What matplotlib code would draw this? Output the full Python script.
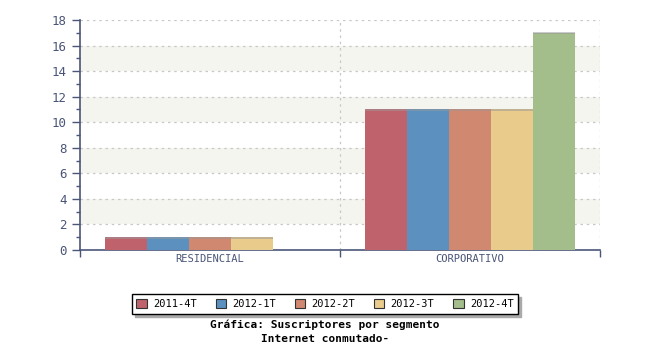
import numpy as np
import matplotlib.pyplot as plt
from matplotlib.ticker import MultipleLocator, FixedLocator

categories = ['RESIDENCIAL', 'CORPORATIVO']
series = ['2011-4T', '2012-1T', '2012-2T', '2012-3T', '2012-4T']
values = [
    [1, 11],
    [1, 11],
    [1, 11],
    [1, 11],
    [0, 17],
]
colors = ['#c0626b', '#5b90bf', '#d08870', '#e9cb8c', '#a3bd8b']
axis_col = '#4a5578'

plt.rcParams['font.family'] = 'DejaVu Sans Mono'

fig = plt.figure(figsize=(6.5, 3.5), dpi=100)
ax = fig.add_axes([80 / 650, 1 - 250 / 350, 520 / 650, 230 / 350])

# fondo con bandas alternas
for y0 in range(2, 18, 4):
    ax.axhspan(y0, y0 + 2, color='#f5f5f0', zorder=0, lw=0)
for y in range(2, 19, 2):
    ax.axhline(y, color='#c8c8c8', ls=(0, (2, 3)), lw=0.9, zorder=1)
for x in [1, 2]:
    ax.axvline(x, color='#c8c8c8', ls=(0, (2, 3)), lw=0.9, zorder=1)

w = 42 / 260
centers = np.arange(len(categories)) + 0.5
for i, (s, vals) in enumerate(zip(series, values)):
    xs = centers + (i - 2) * w
    ax.bar(xs, vals, width=w, color=colors[i], zorder=3, label=s,
           edgecolor='none')
    # borde superior sombreado
    ax.bar(xs, [0.15 if v > 0 else 0 for v in vals], bottom=[v - 0.1 for v in vals],
           width=w, color='#999999', alpha=0.5, zorder=3.5, edgecolor='none')

ax.set_xlim(0, 2)
ax.set_ylim(0, 18)

for side in ['top', 'right']:
    ax.spines[side].set_visible(False)
for side in ['left', 'bottom']:
    ax.spines[side].set_color(axis_col)
    ax.spines[side].set_linewidth(1.2)

ax.yaxis.set_major_locator(MultipleLocator(2))
ax.yaxis.set_minor_locator(MultipleLocator(1))
ax.tick_params(axis='y', which='major', length=6, color=axis_col, labelcolor=axis_col,
               labelsize=9, width=1)
ax.tick_params(axis='y', which='minor', length=3, color=axis_col, width=1)

ax.xaxis.set_major_locator(FixedLocator([0, 1, 2]))
ax.xaxis.set_minor_locator(FixedLocator(centers))
ax.set_xticklabels(['', '', ''])
ax.set_xticklabels(categories, minor=True)
ax.tick_params(axis='x', which='major', length=5, color=axis_col, width=1)
ax.tick_params(axis='x', which='minor', length=0, labelcolor=axis_col, labelsize=7.5, pad=3)

leg = fig.legend(loc='center', bbox_to_anchor=(325 / 650, 1 - 304 / 350), ncol=5,
                 frameon=True, fancybox=False, shadow={'color': '#aaaaaa', 'alpha': 1},
                 edgecolor='black', fontsize=7.5, handlelength=1.0, handleheight=1.0,
                 columnspacing=1.8, handletextpad=0.6, borderpad=0.45)
for h in leg.legend_handles:
    h.set_edgecolor('#333333')
    h.set_linewidth(0.8)

fig.text(0.5, 1 - 325 / 350, 'Gráfica: Suscriptores por segmento', ha='center', va='center',
         fontsize=8, fontweight='bold')
fig.text(0.5, 1 - 339 / 350, 'Internet conmutado-', ha='center', va='center',
         fontsize=8, fontweight='bold')

fig.savefig('out.png', dpi=100)
